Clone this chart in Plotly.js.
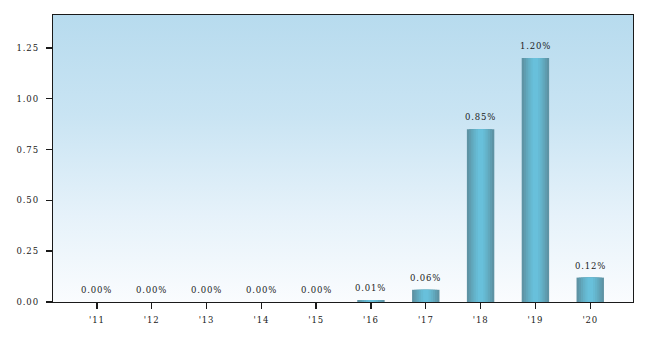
<!DOCTYPE html>
<html>
<head>
<meta charset="utf-8">
<script src="https://cdn.plot.ly/plotly-3.0.1.min.js"></script>
<style>
html,body{margin:0;padding:0;background:#fff;}
#chart{width:648px;height:342px;}
#chart svg text{letter-spacing:0.85px;}
</style>
</head>
<body>
<div id="chart"></div>
<script>
const categories = ["'11","'12","'13","'14","'15","'16","'17","'18","'19","'20"];
const values = [0.0, 0.0, 0.0, 0.0, 0.0, 0.01, 0.06, 0.85, 1.20, 0.12];
const labels = ["0.00%","0.00%","0.00%","0.00%","0.00%","0.01%","0.06%","0.85%","1.20%","0.12%"];
const yTicks = [0, 0.25, 0.5, 0.75, 1.0, 1.25];
const yTickText = ["0.00","0.25","0.50","0.75","1.00","1.25"];

// layered bars to simulate horizontal gradient (dark edges, bright center)
const layerWidths = [0.5, 0.42, 0.34, 0.26, 0.18, 0.1];
const layerColors = ['#5e93a4', '#5f9db0', '#61a8bd', '#64b2c9', '#66bad3', '#68c0db'];
const traces = layerWidths.map((w, i) => ({
  type: 'bar',
  x: categories,
  y: values,
  width: w,
  marker: {color: layerColors[i], line: {width: 0}},
  hoverinfo: 'skip',
  showlegend: false
}));

const bgSvg = '<svg xmlns="http://www.w3.org/2000/svg" width="10" height="100" preserveAspectRatio="none"><defs><linearGradient id="g" x1="0" y1="0" x2="0" y2="1"><stop offset="0" stop-color="#b7dbee"/><stop offset="0.35" stop-color="#c9e4f3"/><stop offset="0.7" stop-color="#e6f2fa"/><stop offset="1" stop-color="#fafcfe"/></linearGradient></defs><rect width="10" height="100" fill="url(#g)"/></svg>';
const bgUri = 'data:image/svg+xml;base64,' + btoa(bgSvg);

const fontSpec = {family: 'DejaVu Serif', size: 8.5, color: '#1a1a1a'};

const annotations = categories.map((c, i) => ({
  x: c, y: values[i], text: labels[i], showarrow: false,
  yanchor: 'bottom', yshift: 5,
  font: fontSpec
}));

const layout = {
  width: 648, height: 342,
  margin: {l: 53, r: 15, t: 15, b: 40},
  paper_bgcolor: '#ffffff',
  plot_bgcolor: 'rgba(0,0,0,0)',
  barmode: 'overlay',
  font: fontSpec,
  xaxis: {
    type: 'category', range: [-0.8, 9.78],
    showgrid: false, zeroline: false,
    showline: true, linecolor: '#1a1a1a', linewidth: 1.4, mirror: true,
    ticks: 'outside', ticklen: 6, tickwidth: 1.4, tickcolor: '#1a1a1a',
    ticklabelstandoff: 3,
    tickfont: fontSpec
  },
  yaxis: {
    range: [0, 1.412],
    tickvals: yTicks, ticktext: yTickText,
    showgrid: false, zeroline: false,
    showline: true, linecolor: '#1a1a1a', linewidth: 1.4, mirror: true,
    ticks: 'outside', ticklen: 6, tickwidth: 1.4, tickcolor: '#1a1a1a',
    ticklabelstandoff: 5,
    tickfont: fontSpec
  },
  images: [{
    source: bgUri, xref: 'paper', yref: 'paper', x: 0, y: 1,
    sizex: 1, sizey: 1, sizing: 'stretch', layer: 'below',
    xanchor: 'left', yanchor: 'top'
  }],
  annotations: annotations
};

Plotly.newPlot('chart', traces, layout, {displayModeBar: false, staticPlot: true});
</script>
</body>
</html>
